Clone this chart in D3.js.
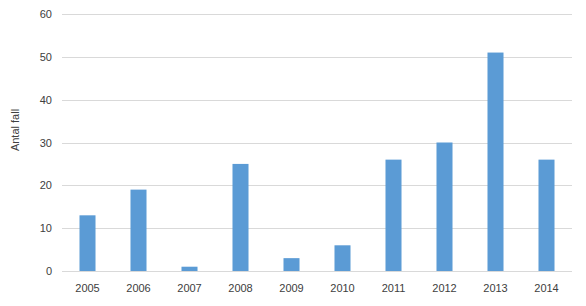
<!DOCTYPE html>
<html>
<head>
<meta charset="utf-8">
<script src="https://cdn.jsdelivr.net/npm/d3@7"></script>
<style>
  body { margin: 0; background: #fff; }
  text { font-family: "Liberation Sans", Arial, sans-serif; fill: #404040; }
</style>
</head>
<body>
<svg id="chart"></svg>
<script>
const years = ["2005", "2006", "2007", "2008", "2009", "2010", "2011", "2012", "2013", "2014"];
const cases = [13, 19, 1, 25, 3, 6, 26, 30, 51, 26];
const yTicks = [0, 10, 20, 30, 40, 50, 60];

const W = 586, H = 306;
const m = { left: 62, right: 14, top: 14, bottom: 35 };

const svg = d3.select("#chart").attr("width", W).attr("height", H);

const x = d3.scaleBand().domain(years).range([m.left, W - m.right]).paddingInner(0.686).paddingOuter(0.343);
const y = d3.scaleLinear().domain([0, 60]).range([H - m.bottom, m.top]);

// gridlines
svg.append("g")
  .selectAll("line")
  .data(yTicks)
  .enter()
  .append("line")
  .attr("x1", m.left)
  .attr("x2", W - m.right)
  .attr("y1", (d) => Math.round(y(d)) + 0.5)
  .attr("y2", (d) => Math.round(y(d)) + 0.5)
  .attr("stroke", "#d9d9d9")
  .attr("stroke-width", 1);

// bars
svg.append("g")
  .selectAll("rect")
  .data(cases)
  .enter()
  .append("rect")
  .attr("x", (d, i) => x(years[i]))
  .attr("y", (d) => y(d))
  .attr("width", x.bandwidth())
  .attr("height", (d) => y(0) - y(d))
  .attr("fill", "#5b9bd5");

// y axis labels
const yAxis = svg.append("g")
  .attr("transform", `translate(${m.left - 10},0)`)
  .call(d3.axisLeft(y).tickValues(yTicks).tickSize(0).tickPadding(0));
yAxis.select(".domain").remove();
yAxis.selectAll("text").attr("font-size", 11).attr("font-family", "Liberation Sans, Arial, sans-serif").attr("fill", "#404040");

// x axis labels
const xAxis = svg.append("g")
  .attr("transform", `translate(0,${y(0)})`)
  .call(d3.axisBottom(x).tickSize(0).tickPadding(13));
xAxis.select(".domain").remove();
xAxis.selectAll("text").attr("font-size", 11).attr("font-family", "Liberation Sans, Arial, sans-serif").attr("fill", "#404040");

// axis title
svg.append("text")
  .attr("transform", `translate(19,130) rotate(-90)`)
  .attr("text-anchor", "middle")
  .attr("font-size", 11)
  .text("Antal fall");
</script>
</body>
</html>
